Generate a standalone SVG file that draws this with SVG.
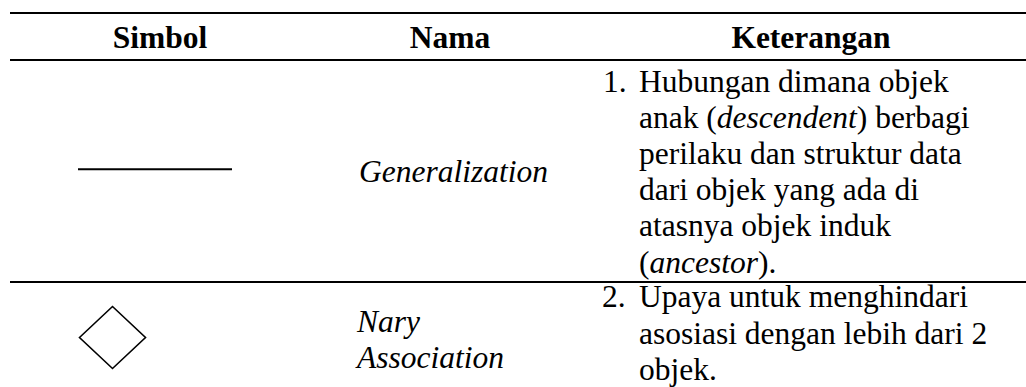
<svg xmlns="http://www.w3.org/2000/svg" width="1026" height="387" viewBox="0 0 1026 387">
<rect width="1026" height="387" fill="#fff"/>
<text x="603" y="91.5" font-family="Liberation Serif" font-size="31.5">1.</text>
<text x="639" y="91.5" font-family="Liberation Serif" font-size="31.5">Hubungan dimana objek</text>
<text x="639" y="127.7" font-family="Liberation Serif" font-size="31.5">anak (<tspan font-style="italic">descendent</tspan>) berbagi</text>
<text x="639" y="163.9" font-family="Liberation Serif" font-size="31.5">perilaku dan struktur data</text>
<text x="639" y="200.1" font-family="Liberation Serif" font-size="31.5">dari objek yang ada di</text>
<text x="639" y="236.3" font-family="Liberation Serif" font-size="31.5">atasnya objek induk</text>
<text x="639" y="272.5" font-family="Liberation Serif" font-size="31.5">(<tspan font-style="italic">ancestor</tspan>).</text>
<text x="602" y="307" font-family="Liberation Serif" font-size="31.5">2.</text>
<text x="639" y="307" font-family="Liberation Serif" font-size="31.5">Upaya untuk menghindari</text>
<text x="639" y="343.5" font-family="Liberation Serif" font-size="31.5">asosiasi dengan lebih dari 2</text>
<text x="639" y="380" font-family="Liberation Serif" font-size="31.5">objek.</text>
<text x="359" y="181.5" font-family="Liberation Serif" font-size="31.5" font-style="italic">Generalization</text>
<text x="357" y="331.5" font-family="Liberation Serif" font-size="31.5" font-style="italic">Nary</text>
<text x="357" y="368" font-family="Liberation Serif" font-size="31.5" font-style="italic">Association</text>
<text x="160" y="47.5" font-family="Liberation Serif" font-size="31.5" font-weight="bold" text-anchor="middle">Simbol</text>
<text x="450" y="47.5" font-family="Liberation Serif" font-size="31.5" font-weight="bold" text-anchor="middle">Nama</text>
<text x="811" y="47.5" font-family="Liberation Serif" font-size="31.5" font-weight="bold" text-anchor="middle">Keterangan</text>
<line x1="78" y1="169.3" x2="232" y2="169.3" stroke="#000" stroke-width="2"/>
<polygon points="79.5,337.5 112.5,306.5 145.5,337.5 112.5,368.5" fill="none" stroke="#000" stroke-width="1.6"/>
<line x1="10" y1="13" x2="1026" y2="13" stroke="#000" stroke-width="2"/>
<line x1="10" y1="60" x2="1026" y2="60" stroke="#000" stroke-width="2"/>
<line x1="10" y1="282" x2="1026" y2="282" stroke="#000" stroke-width="2"/>
</svg>
